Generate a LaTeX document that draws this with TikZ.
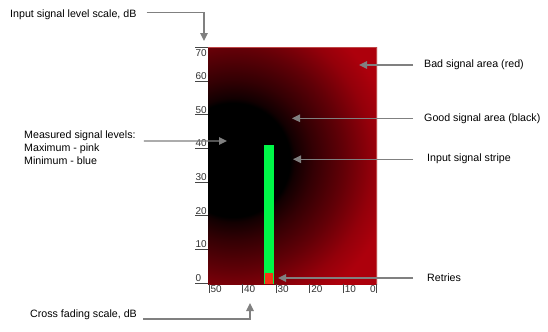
\documentclass[tikz,border=0pt]{standalone}
\usepackage{fontspec}
\setmainfont{Liberation Sans}
\usetikzlibrary{arrows.meta}
\definecolor{sigred}{RGB}{172,0,12}
\definecolor{arrowgray}{RGB}{128,128,128}
\definecolor{stripegreen}{RGB}{0,248,72}
\definecolor{retryred}{RGB}{245,52,22}
\definecolor{tickgray}{RGB}{70,70,70}
\definecolor{numgray}{RGB}{50,50,50}
\definecolor{rimred}{RGB}{190,70,70}
\pgfdeclareradialshading{goodbad}{\pgfpointorigin}{%
  rgb(0bp)=(0,0,0); rgb(57bp)=(0,0,0); rgb(62bp)=(0.07,0,0.005);
  rgb(80bp)=(0.2,0,0.014); rgb(110bp)=(0.38,0,0.027); rgb(140bp)=(0.58,0,0.04);
  rgb(162bp)=(0.68,0,0.047); rgb(220bp)=(0.68,0,0.047)}
\tikzset{
  lbl/.style={font=\fontsize{10.7}{13}\selectfont, text=black, inner sep=0pt, align=left},
  num/.style={font=\fontsize{10}{12}\selectfont, text=numgray, inner sep=0pt},
  arr/.style={draw=arrowgray, line width=1.3bp, -{Triangle[length=8bp,width=7.5bp]}},
  tick/.style={draw=tickgray, line width=0.8bp},
}
\begin{document}
\begin{tikzpicture}[x=1bp,y=-1bp]
\useasboundingbox[fill=white] (0,0) rectangle (548,331);
% panel
\begin{scope}
  \clip (208,47) rectangle (377,284);
  \fill[sigred] (208,47) rectangle (377,284);
  \node[inner sep=0pt] (shade) at (233,160) {\pgfuseshading{goodbad}};
\end{scope}
\draw[rimred, line width=0.6bp] (208,47.3) -- (376.7,47.3) -- (376.7,284);
% stripe and retries
\fill[stripegreen] (264,145.3) rectangle (274,284);
\fill[retryred] (265.2,273.3) rectangle (272.8,284);
% y scale
\foreach \v/\yy in {0/283,10/249.3,20/215.6,30/182,40/148.3,50/114.6,60/81}{
  \draw[tick] (195,\yy) -- (208,\yy);
  \node[num, anchor=base west] (y\v) at (195.3,\yy-1.4) {\v};
}
\draw[tick] (195,47.3) -- (208,47.3);
\node[num, anchor=north west] (y70) at (195.3,49) {70};
% x scale
\foreach \v/\xx in {50/209,40/242.6,30/276.2,20/309.8,10/343.4}{
  \draw[tick] (\xx,284) -- (\xx,293);
  \node[num, anchor=base west] (x\v) at (\xx+1.3,292.5) {\v};
}
\draw[tick] (376.7,284) -- (376.7,293);
\node[num, anchor=base east] (x0) at (375.8,292.5) {0};
% labels
\node[lbl, anchor=west] (inscale) at (10,14.3) {Input signal level scale, dB};
\node[lbl, anchor=west] (bad) at (424,65) {Bad signal area (red)};
\node[lbl, anchor=west] (good) at (424,118.3) {Good signal area (black)};
\node[lbl, anchor=west] (stripe) at (427,159.2) {Input signal stripe};
\node[lbl, anchor=west] (retries) at (427,278) {Retries};
\node[lbl, anchor=west] (measured) at (24,148) {Measured signal levels:\\Maximum - pink\\Minimum - blue};
\node[lbl, anchor=west] (cross) at (30,314.5) {Cross fading scale, dB};
% arrow tips
\coordinate (inscaletip) at (204,41);
\coordinate (badtip) at (359,65);
\coordinate (goodtip) at (292,118.3);
\coordinate (stripetip) at (293,159.2);
\coordinate (retriestip) at (278,278);
\coordinate (measuredtip) at (227,141);
\coordinate (crosstip) at (250,303);
% arrows
\draw[arr] ([xshift=10bp,yshift=2bp]inscale.east) -| (inscaletip);
\draw[arr] ([xshift=-11bp]bad.west) -- (badtip);
\draw[arr] ([xshift=-11bp]good.west) -- (goodtip);
\draw[arr] ([xshift=-14bp]stripe.west) -- (stripetip);
\draw[arr] ([xshift=-14bp]retries.west) -- (retriestip);
\draw[arr] ([xshift=8bp,yshift=7bp]measured.east) -- (measuredtip);
\draw[arr] ([xshift=6bp,yshift=-4.5bp]cross.east) -| (crosstip);
\end{tikzpicture}
\end{document}
